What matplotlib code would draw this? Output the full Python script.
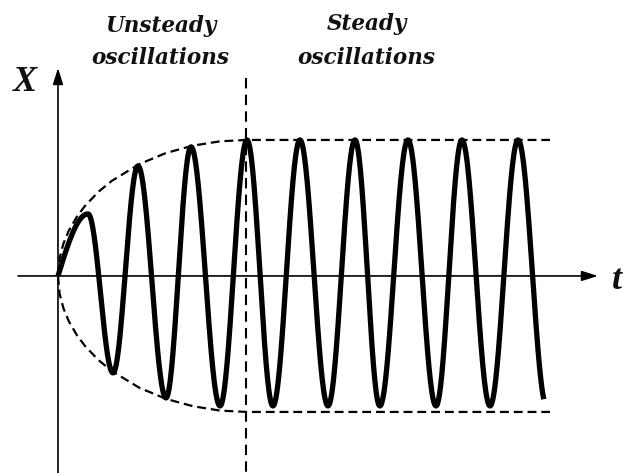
import numpy as np
import matplotlib.pyplot as plt

# ----------------------------- Data -----------------------------
# extrema of the oscillation (time in periods, displacement / steady amplitude)
ext_t = [0.0, 0.556, 1.019, 1.481, 2.0, 2.463, 3.0, 3.5, 3.98, 4.48, 5.0,
         5.5, 5.96, 6.48, 7.0, 7.48, 8.0, 8.52, 9.05]
ext_x = [0.0, 0.456, -0.713, 0.809, -0.897, 0.949, -0.956, 1.0, -0.956, 1.0, -0.956,
         1.0, -0.956, 1.0, -0.956, 1.0, -0.956, 1.0, -0.956]
t_end = 9.0

# growth envelope (upper half; lower half is its mirror)
env_t = [0.0, 0.03, 0.1, 0.2, 0.35, 0.5, 0.75, 1.0, 1.5, 2.0, 2.5, 3.0, 3.5, 9.11]
env_x = [0.0, 0.131, 0.237, 0.333, 0.436, 0.515, 0.619, 0.700, 0.821, 0.904,
         0.958, 0.990, 1.0, 1.0]

t_switch = 3.48          # boundary unsteady / steady

# ----------------------------- Curve ----------------------------
def smooth_through(ts, xs, n=60):
    """join the extrema with quarter/half cosine arcs"""
    T, X = [], []
    for i in range(len(ts) - 1):
        s = np.linspace(0, 1, n)
        if i == 0:   # starts from a zero crossing
            seg = xs[1] * np.sin(0.5 * np.pi * s)
        else:
            seg = xs[i] + (xs[i + 1] - xs[i]) * (1 - np.cos(np.pi * s)) / 2
        T.append(ts[i] + (ts[i + 1] - ts[i]) * s)
        X.append(seg)
    return np.concatenate(T), np.concatenate(X)

tt, xx = smooth_through(ext_t, ext_x)
keep = tt <= t_end
tt, xx = tt[keep], xx[keep]

# ----------------------------- Figure ---------------------------
fig = plt.figure(figsize=(6.23, 4.73), dpi=100)
ax = fig.add_axes([0, 0, 1, 1])
ax.set_xlim(-1.074, 10.463)
ax.set_ylim(-1.449, 2.029)
ax.axis("off")

# axes with arrows
arrow = dict(arrowstyle="-|>,head_length=0.7,head_width=0.22", lw=1.2,
             color="black", mutation_scale=14, shrinkA=0, shrinkB=0)
ax.annotate("", xy=(0, 1.529), xytext=(0, -1.449), arrowprops=arrow)
ax.annotate("", xy=(10.0, 0), xytext=(-0.74, 0), arrowprops=arrow)

# envelope and separator
ax.plot(env_t, env_x, color="black", lw=1.6, dashes=(4, 2.2))
ax.plot(env_t, [-v for v in env_x], color="black", lw=1.6, dashes=(4, 2.2))
ax.plot([t_switch, t_switch], [1.456, -1.449], color="black", lw=1.5, dashes=(5, 3))

# oscillation
ax.plot(tt, xx, color="black", lw=3.8, solid_capstyle="butt")

# labels
fnt = dict(family="DejaVu Serif", weight="bold", style="italic", color="#111111")
ax.text(1.907, 1.794, "Unsteady", ha="center", va="baseline", fontsize=15.5, **fnt)
ax.text(1.889, 1.559, "oscillations", ha="center", va="baseline", fontsize=15.5, **fnt)
ax.text(5.72, 1.809, "Steady", ha="center", va="baseline", fontsize=15.5, **fnt)
ax.text(5.70, 1.559, "oscillations", ha="center", va="baseline", fontsize=15.5, **fnt)
fnt2 = dict(fnt, family="Liberation Serif")
ax.text(-0.611, 1.419, "X", ha="center", va="center", fontsize=26, **fnt2)
ax.text(10.25, -0.03, "t", ha="left", va="center", fontsize=26, **fnt2)

fig.savefig("out.png", dpi=100)
